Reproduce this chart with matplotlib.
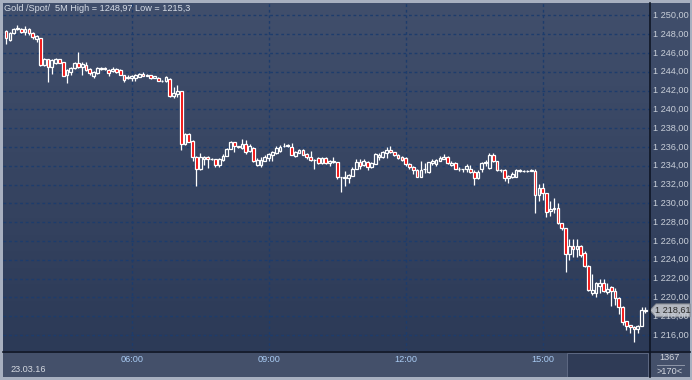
import matplotlib
matplotlib.use('Agg')
import matplotlib.pyplot as plt
import numpy as np
from matplotlib.patches import Rectangle, Polygon
from matplotlib.colors import LinearSegmentedColormap

# ---------------- data (5-minute candles, 03:15 .. 17:15) ----------------
opens = [1248.35, 1247.4, 1248.1, 1248.55, 1248.55, 1248.25, 1248.5, 1248.1, 1247.45, 1247.55,
         1244.7, 1245.3, 1244.5, 1244.95, 1245.3, 1245.0, 1243.6, 1244.0, 1244.35, 1244.95,
         1244.5, 1244.7, 1244.25, 1243.55, 1243.85, 1244.25, 1244.35, 1244.2, 1244.05, 1244.3,
         1244.2, 1243.65, 1243.3, 1243.35, 1243.3, 1243.45, 1243.75, 1243.55, 1243.6, 1243.35,
         1243.35, 1243.05, 1243.0, 1243.2, 1241.4, 1241.6, 1241.95, 1236.3, 1237.4, 1236.6,
         1234.95, 1233.6, 1234.75, 1234.95, 1234.7, 1234.7, 1234.1, 1234.6, 1235.05, 1235.8,
         1236.5, 1236.05, 1235.85, 1236.3, 1235.55, 1235.9, 1234.1, 1234.1, 1234.55, 1234.8,
         1235.15, 1235.3, 1235.6, 1236.05, 1236.1, 1236.0, 1235.05, 1235.4, 1235.7, 1235.25,
         1234.95, 1234.65, 1234.8, 1234.25, 1234.8, 1234.25, 1234.4, 1234.35, 1232.8, 1232.7,
         1232.65, 1232.95, 1233.7, 1234.35, 1234.1, 1234.35, 1233.85, 1234.2, 1234.9, 1234.9,
         1235.3, 1235.7, 1235.45, 1235.15, 1234.95, 1234.8, 1234.15, 1233.9, 1233.55, 1232.85,
         1233.6, 1233.3, 1234.3, 1234.2, 1234.5, 1234.75, 1234.9, 1234.1, 1234.25, 1233.7,
         1233.6, 1233.6, 1233.7, 1233.35, 1232.7, 1233.6, 1234.3, 1233.8, 1235.15, 1234.45,
         1233.55, 1233.55, 1232.65, 1232.85, 1232.85, 1233.45, 1233.45, 1233.4, 1233.45, 1233.45,
         1230.9, 1231.6, 1231.05, 1229.2, 1229.55, 1229.45, 1227.9, 1227.35, 1224.6, 1225.45,
         1225.1, 1225.45, 1224.7, 1223.35, 1220.45, 1220.45, 1221.2, 1221.5, 1220.6, 1221.05,
         1220.7, 1219.9, 1219.0, 1217.45, 1217.05, 1216.8, 1216.6, 1216.95, 1218.55]
highs = [1248.45, 1248.2, 1248.7, 1248.97, 1248.7, 1248.9, 1248.6, 1248.2, 1247.9, 1247.6,
         1245.45, 1245.4, 1245.4, 1245.5, 1245.4, 1245.05, 1244.3, 1244.5, 1245.05, 1246.1,
         1245.0, 1245.0, 1244.35, 1244.1, 1244.5, 1244.5, 1244.45, 1244.3, 1244.5, 1244.4,
         1244.3, 1243.7, 1243.6, 1243.6, 1243.75, 1243.85, 1243.95, 1243.75, 1243.65, 1243.55,
         1243.4, 1243.1, 1243.55, 1243.3, 1242.4, 1242.6, 1242.0, 1237.45, 1237.5, 1236.7,
         1235.0, 1235.4, 1235.05, 1235.05, 1234.85, 1234.75, 1234.8, 1235.2, 1235.85, 1236.6,
         1236.55, 1236.15, 1236.8, 1236.75, 1236.3, 1236.0, 1234.85, 1234.9, 1235.1, 1235.35,
         1235.6, 1236.1, 1236.25, 1236.45, 1236.3, 1236.4, 1235.6, 1235.8, 1235.75, 1235.3,
         1235.55, 1234.75, 1234.95, 1234.95, 1234.9, 1234.6, 1234.95, 1234.4, 1232.85, 1233.4,
         1233.1, 1233.85, 1234.7, 1234.7, 1234.7, 1234.45, 1234.4, 1235.3, 1235.3, 1235.6,
         1236.0, 1236.05, 1235.5, 1235.25, 1235.0, 1234.9, 1234.3, 1234.0, 1233.6, 1234.5,
         1234.25, 1234.4, 1234.7, 1234.7, 1235.0, 1235.2, 1235.0, 1234.5, 1234.35, 1233.85,
         1233.7, 1234.2, 1234.1, 1233.5, 1233.5, 1234.35, 1234.6, 1235.3, 1235.3, 1234.5,
         1233.7, 1233.6, 1233.05, 1233.3, 1233.65, 1233.7, 1233.5, 1233.55, 1233.6, 1233.6,
         1232.1, 1232.15, 1231.1, 1230.3, 1230.6, 1230.0, 1227.95, 1227.4, 1226.2, 1226.25,
         1226.25, 1225.6, 1224.9, 1223.4, 1222.5, 1221.6, 1221.95, 1221.95, 1221.5, 1221.2,
         1221.0, 1220.0, 1219.1, 1217.5, 1217.1, 1216.9, 1217.05, 1219.0, 1218.95]
lows = [1246.9, 1247.3, 1248.0, 1248.4, 1248.1, 1247.9, 1247.95, 1247.5, 1247.2, 1244.6,
        1244.6, 1242.95, 1243.8, 1244.8, 1244.9, 1243.5, 1242.75, 1243.6, 1244.3, 1244.35,
        1243.65, 1244.1, 1243.7, 1243.35, 1243.8, 1244.2, 1244.2, 1243.5, 1244.0, 1243.85,
        1243.6, 1242.95, 1243.2, 1243.05, 1243.05, 1243.4, 1243.5, 1243.5, 1243.2, 1243.3,
        1243.0, 1242.95, 1242.95, 1241.35, 1241.25, 1241.35, 1235.7, 1236.2, 1236.5, 1234.55,
        1231.8, 1233.55, 1234.1, 1233.75, 1234.6, 1233.9, 1233.9, 1234.5, 1235.0, 1235.75,
        1235.5, 1235.9, 1235.8, 1235.2, 1235.5, 1234.4, 1233.95, 1233.9, 1234.5, 1234.45,
        1234.55, 1235.25, 1235.5, 1236.0, 1236.0, 1235.1, 1234.95, 1235.3, 1235.1, 1234.75,
        1234.5, 1233.6, 1234.2, 1234.2, 1234.2, 1234.0, 1234.3, 1232.55, 1231.25, 1231.85,
        1232.15, 1232.9, 1233.65, 1233.7, 1234.0, 1233.55, 1233.8, 1234.15, 1234.6, 1234.85,
        1234.8, 1235.35, 1235.0, 1234.75, 1234.5, 1234.0, 1233.65, 1233.1, 1232.8, 1232.8,
        1233.2, 1233.25, 1234.1, 1234.0, 1234.45, 1234.7, 1234.2, 1233.95, 1233.65, 1233.4,
        1233.3, 1233.3, 1233.2, 1231.95, 1232.55, 1233.35, 1234.0, 1233.7, 1234.4, 1233.4,
        1233.35, 1232.4, 1232.15, 1232.7, 1232.8, 1233.3, 1233.35, 1233.35, 1233.4, 1229.0,
        1230.2, 1230.4, 1228.5, 1228.6, 1228.95, 1227.85, 1227.2, 1222.7, 1223.95, 1224.25,
        1224.3, 1224.3, 1223.2, 1220.7, 1220.25, 1220.05, 1220.45, 1220.6, 1220.4, 1219.05,
        1219.2, 1218.2, 1217.1, 1216.5, 1216.2, 1215.3, 1216.2, 1216.9, 1218.3]
closes = [1247.55, 1248.1, 1248.5, 1248.6, 1248.25, 1248.55, 1248.1, 1247.65, 1247.75, 1244.7,
          1245.3, 1244.5, 1245.2, 1245.3, 1244.95, 1243.55, 1244.2, 1244.35, 1244.95, 1244.5,
          1244.85, 1244.2, 1243.85, 1244.0, 1244.35, 1244.4, 1244.3, 1243.85, 1244.3, 1243.95,
          1243.65, 1243.1, 1243.4, 1243.5, 1243.65, 1243.75, 1243.55, 1243.65, 1243.3, 1243.5,
          1243.05, 1243.0, 1243.4, 1241.4, 1241.7, 1241.95, 1236.3, 1237.4, 1236.55, 1234.95,
          1233.6, 1234.95, 1234.95, 1234.7, 1234.75, 1234.1, 1234.7, 1235.05, 1235.8, 1236.5,
          1236.15, 1236.0, 1236.3, 1235.5, 1236.1, 1234.45, 1234.6, 1234.6, 1234.95, 1235.25,
          1235.5, 1235.85, 1236.0, 1236.15, 1236.2, 1235.15, 1235.5, 1235.7, 1235.15, 1234.9,
          1234.6, 1234.6, 1234.25, 1234.8, 1234.25, 1234.5, 1234.55, 1232.8, 1232.75, 1232.8,
          1233.0, 1233.7, 1234.35, 1234.0, 1234.55, 1233.9, 1234.3, 1235.2, 1235.15, 1235.5,
          1235.7, 1235.45, 1235.1, 1234.85, 1234.6, 1234.15, 1233.85, 1233.55, 1232.85, 1233.55,
          1233.7, 1234.35, 1234.45, 1234.6, 1234.8, 1234.95, 1234.25, 1234.3, 1233.7, 1233.6,
          1233.6, 1234.0, 1233.35, 1232.7, 1233.35, 1234.3, 1234.4, 1235.15, 1234.45, 1233.55,
          1233.5, 1232.65, 1232.95, 1233.1, 1233.55, 1233.55, 1233.4, 1233.45, 1233.5, 1230.9,
          1231.6, 1231.05, 1229.1, 1229.4, 1229.35, 1227.9, 1227.35, 1224.6, 1225.45, 1225.1,
          1225.45, 1224.5, 1223.3, 1220.8, 1220.8, 1221.5, 1221.5, 1220.7, 1220.85, 1220.7,
          1219.9, 1219.0, 1217.4, 1217.0, 1216.8, 1216.6, 1216.95, 1218.65, 1218.61]

time_ticks = [33, 69, 105, 141]          # candle index of tick times
time_labels = ['06:00', '09:00', '12:00', '15:00']
price_ticks = list(range(1216, 1252, 2))
title_text = 'Gold /Spot/  5M High = 1248,97 Low = 1215,3'
date_label = '23.03.16'
last_price = 1218.61
last_label = '1 218,61'
bars_label = '1367'
visible_label = '>170<'

# ---------------- figure ----------------
W, H = 692, 380
fig = plt.figure(figsize=(W / 100, H / 100), dpi=100)
fig.patch.set_facecolor('#A8B0C0')
FONT = 'Liberation Sans'
FS = 6.6


def fx(px):
    return px / W


def fy(py):
    return 1 - py / H


# gradient background (chart + price axis)
bg = fig.add_axes([fx(3), fy(351), fx(687), 348 / H], zorder=0)
grad = np.linspace(0, 1, 256).reshape(-1, 1)
cmap = LinearSegmentedColormap.from_list('bg', ['#414F6C', '#2C3A57'])
bg.imshow(grad, aspect='auto', cmap=cmap, extent=[0, 1, 0, 1], origin='upper')
bg.set_axis_off()

# bottom time panel
panel = fig.add_axes([fx(3), fy(377), fx(687), 26 / H], zorder=0)
panel.set_xlim(3, 690)
panel.set_ylim(377, 351)
panel.set_axis_off()
panel.add_patch(Rectangle((3, 351), 687, 26, facecolor='#44506A', edgecolor='none'))
panel.add_patch(Rectangle((567, 352.5), 81, 24.5, facecolor='#2F3B56', edgecolor='#5E6983',
                          linewidth=0.7))

ax = fig.add_axes([fx(3), fy(351), fx(647), 348 / H], zorder=1)
ax.patch.set_alpha(0)
ax.set_xlim(-0.81, 169.2)
ax.set_ylim(1214.29, 1251.31)
for s in ax.spines.values():
    s.set_visible(False)
ax.set_xticks([])
ax.set_yticks([])

# grid
GRID = '#1D3C6C'
for v in price_ticks:
    ax.axhline(v, color=GRID, lw=1.0, ls=(0, (2, 2)), zorder=1)
for t in time_ticks:
    ax.axvline(t, color=GRID, lw=1.0, ls=(0, (2, 2)), zorder=1)

# candles
o = np.array(opens); h = np.array(highs); l = np.array(lows); c = np.array(closes)
x = np.arange(len(o))
top = np.maximum(o, c)
bot = np.minimum(o, c)
ax.vlines(x, top, h, color='white', lw=0.9, zorder=3)
ax.vlines(x, l, bot, color='white', lw=0.9, zorder=3)
hgt = np.maximum(top - bot, 0.06)
up = c >= o
dn = ~up
ax.bar(x[up], hgt[up], bottom=bot[up], width=0.72, facecolor='none',
       edgecolor='white', linewidth=0.9, zorder=4)
ax.bar(x[dn], hgt[dn], bottom=bot[dn], width=0.72, facecolor='#F00000',
       edgecolor='white', linewidth=0.9, zorder=4)

# overlay axes for all texts and frame lines (pixel coordinates)
ov = fig.add_axes([0, 0, 1, 1], zorder=5)
ov.set_xlim(0, W)
ov.set_ylim(H, 0)
ov.set_axis_off()
ov.patch.set_alpha(0)


def ypix(v):
    disp = ax.transData.transform((0, v))[1]
    return H - disp


# price labels
for v in price_ticks:
    s = f'{v:,.2f}'.replace(',', ' ').replace('.', ',')
    ov.text(653, ypix(v), s, ha='left', va='center', fontsize=FS, color='#C8CED8',
            family=FONT)

# time labels
for t, lab in zip(time_ticks, time_labels):
    disp = ax.transData.transform((t, 1230))[0]
    ov.text(disp, 359.5, lab, ha='center', va='center', fontsize=FS, color='#A9CBF3',
            family=FONT)

ov.text(10, 370, date_label, ha='left', va='center', fontsize=FS, color='#D4D8E0',
        family=FONT)

# separator lines
ov.plot([650, 650], [3, 377], color='#0E1524', lw=1.2)
ov.plot([3, 690], [351.5, 351.5], color='#0E1524', lw=1.2)

# bottom-right info
ov.text(670, 358, bars_label, ha='center', va='center', fontsize=FS, color='#D4D8E0',
        family=FONT)
ov.plot([657, 684], [364.5, 364.5], color='#8F97A8', lw=0.7)
ov.text(670, 371, visible_label, ha='center', va='center', fontsize=FS, color='#D4D8E0',
        family=FONT)

# title
ov.text(4, 8.5, title_text, ha='left', va='center', fontsize=FS, color='#D6DCE6',
        family=FONT)

# last-price marker
yl = ypix(last_price)
ov.add_patch(Polygon([(650, yl), (656, yl - 6.5), (690, yl - 6.5), (690, yl + 6.5),
                      (656, yl + 6.5)], closed=True, facecolor='#B4B8C0',
                     edgecolor='#80848C', linewidth=0.7))
ov.text(673, yl, last_label, ha='center', va='center', fontsize=FS, color='#2A2A2A',
        family=FONT)

fig.savefig('out.png', dpi=100, facecolor=fig.get_facecolor())
